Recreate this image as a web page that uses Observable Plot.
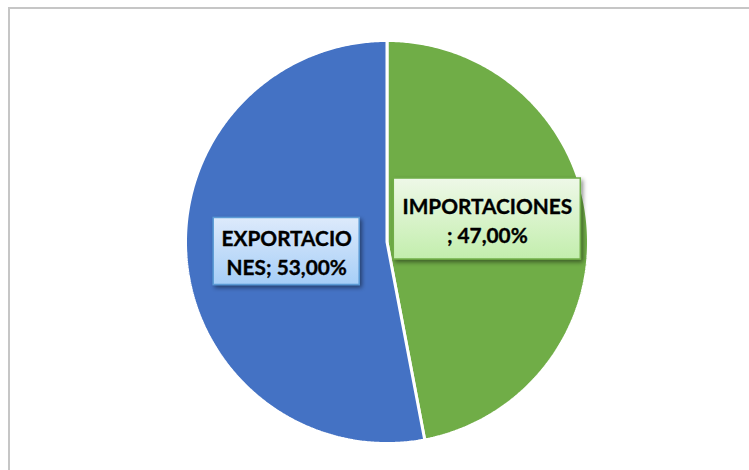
<!DOCTYPE html>
<html><head><meta charset="utf-8">
<script src="https://cdn.jsdelivr.net/npm/d3@7"></script>
<script src="https://cdn.jsdelivr.net/npm/@observablehq/plot@0.6"></script>
<style>
html,body{margin:0;padding:0;background:#fff;overflow:hidden}
#wrap{position:relative;width:749px;height:470px}
#frame{position:absolute;left:8px;top:7px;width:800px;height:500px;border-left:2px solid #c6c6c6;border-top:2px solid #c6c6c6;box-sizing:border-box}
#chart{position:absolute;left:0;top:0}
</style></head><body><div id="wrap"><div id="frame"></div><div id="chart"></div></div>
<script>
// ---- data ----
const categories = ["IMPORTACIONES", "EXPORTACIONES"];
const values = [47.00, 53.00];
const labelBreaks = [13, 10]; // where Excel wrapped each data label

// ---- style / layout ----
const colors = ["#70AD47", "#4472C4"];
const boxTop = ["#EEF8E8", "#DDEAFB"];
const boxBottom = ["#C3EEAD", "#A6CEF7"];
const boxBorder = ["#70AD47", "#5B9BD5"];
const boxSize = [[187, 81], [146, 67]];
const labelShiftY = [13.5, 0];
const W = 749, H = 470, cx = 386.5, cy = 241.5, R = 201.5;

const arcs = d3.pie().sort(null).value(d => d)(values);
const points = [];
arcs.forEach((a, i) => {
  const cat = categories[i];
  points.push({cat, x: 0, y: 0});
  const n = Math.max(8, Math.ceil((a.endAngle - a.startAngle) / (Math.PI / 360)));
  for (let k = 0; k <= n; k++) {
    const t = a.startAngle + (a.endAngle - a.startAngle) * k / n;
    points.push({cat, x: R * Math.sin(t), y: R * Math.cos(t)});
  }
  points.push({cat, x: 0, y: 0});
});

const fmt = v => v.toFixed(2).replace(".", ",") + "%";
const labels = arcs.map((a, i) => {
  const full = `${categories[i]}; ${fmt(values[i])}`;
  const b = labelBreaks[i];
  const mid = (a.startAngle + a.endAngle) / 2;
  const x = 0.5 * R * Math.sin(mid);
  const y = 0.5 * R * Math.cos(mid) + labelShiftY[i];
  return {i, text: full.slice(0, b).trim() + "\n" + full.slice(b).trim(), x, y,
          w: boxSize[i][0], h: boxSize[i][1]};
});

const plot = Plot.plot({
  width: W, height: H,
  margin: 0,
  x: {domain: [-cx, W - cx], range: [0, W], axis: null},
  y: {domain: [cy - H, cy], range: [H, 0], axis: null},
  color: {domain: categories, range: colors},
  style: {background: "transparent"},
  marks: [
    Plot.line(points, {x: "x", y: "y", z: "cat", fill: "cat", stroke: "white", strokeWidth: 3, strokeLinejoin: "miter", curve: "linear"}),
    ...labels.map(l => Plot.rect([l], {
      x1: d => d.x - d.w / 2, x2: d => d.x + d.w / 2,
      y1: d => d.y - d.h / 2, y2: d => d.y + d.h / 2,
      fill: `url(#grad${l.i})`, stroke: boxBorder[l.i], strokeWidth: 1.5
    })),
    Plot.text(labels, {x: "x", y: "y", text: "text", fontSize: 20.8, fontWeight: "bold",
      fontFamily: "Lato, 'Open Sans', sans-serif", lineHeight: 1.38, fill: "black",
      stroke: "black", strokeWidth: 0.35})
  ]
});

const svgEl = plot.tagName.toLowerCase() === "svg" ? plot : plot.querySelector("svg");
const svg = d3.select(svgEl);
const defs = svg.insert("defs", ":first-child");
categories.forEach((c, i) => {
  const g = defs.append("linearGradient").attr("id", "grad" + i)
    .attr("x1", 0).attr("y1", 0).attr("x2", 0).attr("y2", 1);
  g.append("stop").attr("offset", "0%").attr("stop-color", boxTop[i]);
  g.append("stop").attr("offset", "100%").attr("stop-color", boxBottom[i]);
});
const f = defs.append("filter").attr("id", "shadow").attr("x", "-20%").attr("y", "-20%").attr("width", "150%").attr("height", "160%");
f.append("feDropShadow").attr("dx", 2).attr("dy", 2.5).attr("stdDeviation", 2)
  .attr("flood-color", "#000").attr("flood-opacity", 0.45);
svg.selectAll("g[aria-label='rect']").attr("filter", "url(#shadow)");
document.getElementById("chart").appendChild(plot);
</script>
</body></html>
